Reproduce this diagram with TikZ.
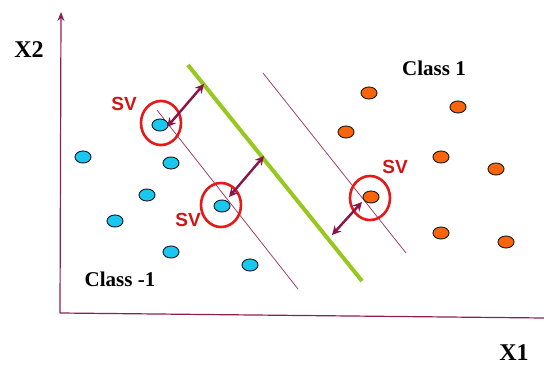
\documentclass[tikz,border=0pt]{standalone}
\usepackage{fontspec}
\setmainfont{Liberation Serif}
\setsansfont{Liberation Sans}
\usepackage{tikz}
\usetikzlibrary{
  arrows.meta,
  positioning,
  shapes.geometric
}
\usepackage{xcolor}
\definecolor{axisplum}{RGB}{140,30,85}
\definecolor{hypgreen}{RGB}{150,200,30}
\definecolor{ptblue}{RGB}{25,200,240}
\definecolor{ptorange}{RGB}{250,100,10}
\definecolor{svred}{RGB}{230,25,25}
\definecolor{arrowplum}{RGB}{140,20,70}

\begin{document}
\begin{tikzpicture}[x=1pt,y=-1pt,
  bluept/.style={ellipse, draw=black!85, line width=1pt, fill=ptblue,
    minimum width=16pt, minimum height=12pt, inner sep=0pt},
  orangept/.style={bluept, fill=ptorange},
  svring/.style={ellipse, draw=svred, line width=2.6pt,
    minimum width=40pt, minimum height=44pt, inner sep=0pt},
  svlabel/.style={font=\sffamily\bfseries\fontsize{19}{20}\selectfont, text=svred!90!black},
  classlabel/.style={font=\bfseries\fontsize{21}{23}\selectfont, inner sep=1pt},
  axislabel/.style={font=\bfseries\fontsize{24}{26}\selectfont, inner sep=1pt},
  gap/.style={arrowplum, line width=2.4pt, {Stealth[length=9pt,width=9pt]}-{Stealth[length=9pt,width=9pt]}}
]
  \useasboundingbox (0,0) rectangle (544,367);

  % axes
  \coordinate (O) at (60,313);
  \coordinate (ytop) at (61,12);
  \coordinate (xend) at (544,318);
  \draw[axisplum, line width=1.2pt, -{Stealth[length=9pt,width=7pt]}] (O) -- (ytop);
  \draw[axisplum, line width=1.2pt] (O) -- (xend);
  \node[axislabel] (x2) at (29,50) {X2};
  \node[axislabel] (x1) at (514,353) {X1};

  % separating hyperplane and margins
  \coordinate (g1) at (188,65);
  \coordinate (g2) at (362,281);
  \draw[hypgreen, line width=4pt] (g1) -- (g2);
  \coordinate (m1a) at (157,110);
  \coordinate (m1b) at (298,289);
  \coordinate (m2a) at (263,73);
  \coordinate (m2b) at (406,253);
  \draw[axisplum!85, line width=0.8pt] (m1a) -- (m1b);
  \draw[axisplum!85, line width=0.8pt] (m2a) -- (m2b);

  % class -1 points
  \foreach \x/\y [count=\i] in {160/125, 83/157, 171/163, 147/195,
      115/221, 222/206, 171/252, 250/265}
    \node[bluept] (b\i) at (\x,\y) {};

  % class 1 points
  \foreach \x/\y [count=\i] in {369/93, 458/107, 346/132, 441/157,
      496/169, 371/197, 441/233, 506/242}
    \node[orangept] (o\i) at (\x,\y) {};

  % support vectors
  \node[svring] (r1) at (161,123) {};
  \node[svring] (r2) at (221,205) {};
  \node[svring] (r3) at (370,198) {};
  \node[svlabel] (s1) at (124,104) {SV};
  \node[svlabel] (s2) at (188,220) {SV};
  \node[svlabel] (s3) at (395,167) {SV};

  % margin distances
  \coordinate (f1) at (167,127);
  \coordinate (h1) at (204,84);
  \coordinate (f2) at (229,197);
  \coordinate (h2) at (264,156);
  \coordinate (f3) at (362,202);
  \coordinate (h3) at (332,235);
  \draw[gap] (f1) -- (h1);
  \draw[gap] (f2) -- (h2);
  \draw[gap] (f3) -- (h3);

  \node[classlabel] (c1) at (434,68) {Class 1};
  \node[classlabel] (c0) at (120,279) {Class -1};
\end{tikzpicture}
\end{document}
